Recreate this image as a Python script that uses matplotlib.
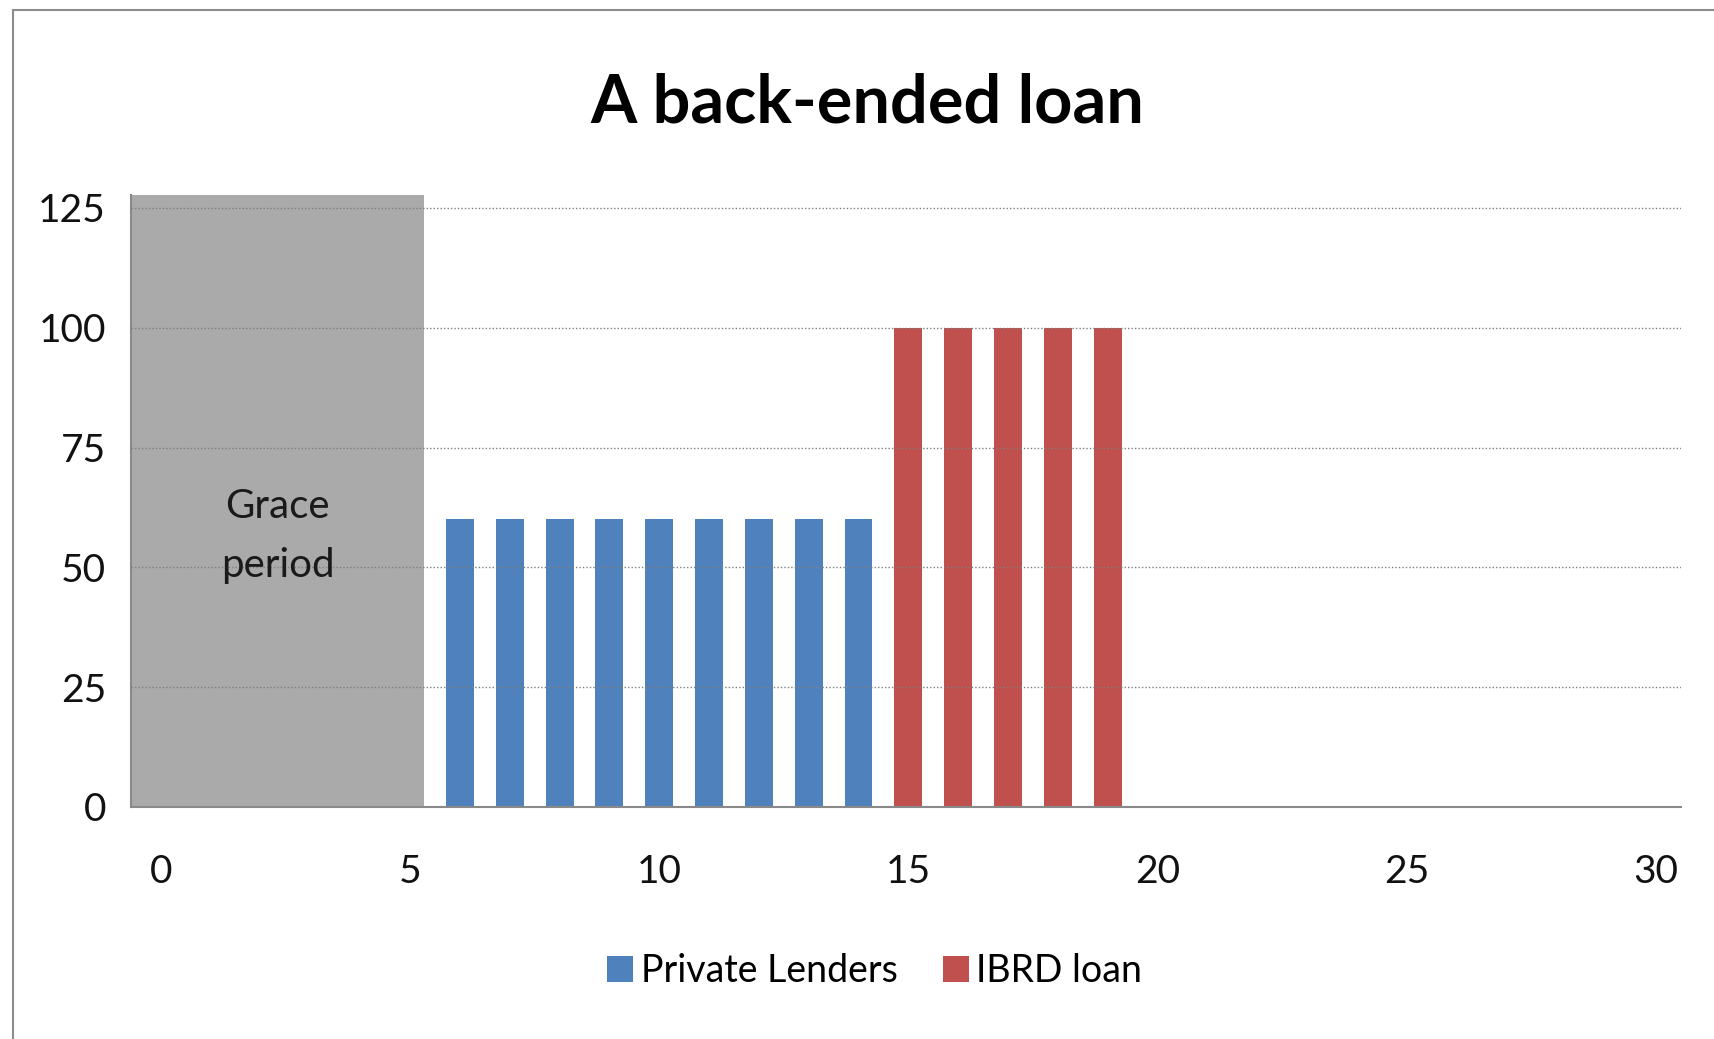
import matplotlib
matplotlib.use("Agg")
import matplotlib.pyplot as plt
import matplotlib.patches as patches

plt.rcParams['font.family'] = ['Lato', 'DejaVu Sans']

# data
private_years = [6, 7, 8, 9, 10, 11, 12, 13, 14]
private_values = [60, 60, 60, 60, 60, 60, 60, 60, 60]
ibrd_years = [15, 16, 17, 18, 19]
ibrd_values = [100, 100, 100, 100, 100]
grace_end = 5.28
grace_label = "Grace\nperiod"
x_ticks = [0, 5, 10, 15, 20, 25, 30]
y_ticks = [0, 25, 50, 75, 100, 125]

blue = '#4F81BD'
red = '#C0504D'

fig = plt.figure(figsize=(17.15, 10.39), dpi=100)
ax = fig.add_axes([0.0764, 0.2233, 0.9036, 0.589])
ax.set_xlim(-0.6, 30.5)
ax.set_ylim(0, 127.7)

# grace period block
ax.axvspan(-0.6, grace_end, color='#AAAAAA', zorder=0.5, lw=0)
ax.text((-0.6 + grace_end) / 2, 56.5, grace_label, ha='center', va='center',
        fontsize=29, color='#1a1a1a', linespacing=1.75, zorder=3)

bp = ax.bar(private_years, private_values, width=0.56, color=blue, zorder=2,
            label='Private Lenders')
br = ax.bar(ibrd_years, ibrd_values, width=0.56, color=red, zorder=2,
            label='IBRD loan')

ax.set_yticks(y_ticks)
ax.set_xticks(x_ticks)
ax.yaxis.grid(True, linestyle=(0, (1, 1.5)), color='#7f7f7f', lw=1.0, zorder=1)
ax.set_axisbelow(False)
ax.tick_params(axis='both', length=0, labelsize=28, labelcolor='#111111')
ax.tick_params(axis='x', pad=34)
ax.tick_params(axis='y', pad=18)

for s in ['top', 'right']:
    ax.spines[s].set_visible(False)
ax.spines['left'].set_color('#8a8a8a')
ax.spines['left'].set_linewidth(1.5)
ax.spines['bottom'].set_color('#8a8a8a')
ax.spines['bottom'].set_linewidth(1.5)

fig.text(0.506, 0.9, 'A back-ended loan', ha='center', va='center',
         fontsize=48, fontweight='bold')

fig.legend(handles=[bp, br], loc='center', bbox_to_anchor=(0.51, 0.0654),
           ncol=2, frameon=False, fontsize=27, handlelength=0.7,
           handleheight=0.7, handletextpad=0.2, columnspacing=1.2)

# outer chart border
fig.patches.append(patches.Rectangle((0.0076, -0.1), 1.2, 1.09,
                                     transform=fig.transFigure, fill=False,
                                     edgecolor='#8c8c8c', lw=1.5))

fig.savefig('out.png', dpi=100, facecolor='white')
